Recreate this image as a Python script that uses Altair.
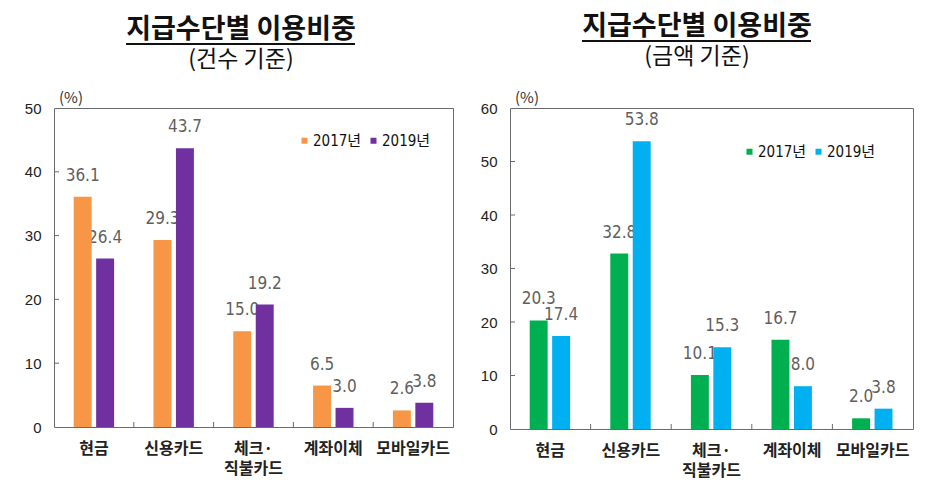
import altair as alt
import pandas as pd

# ---- data ----
categories = ["현금", "신용카드", "체크·\n직불카드", "계좌이체", "모바일카드"]
years = ["2017년", "2019년"]
count_2017 = [36.1, 29.3, 15.0, 6.5, 2.6]
count_2019 = [26.4, 43.7, 19.2, 3.0, 3.8]
amount_2017 = [20.3, 32.8, 10.1, 16.7, 2.0]
amount_2019 = [17.4, 53.8, 15.3, 8.0, 3.8]
count_ticks = [0, 10, 20, 30, 40, 50]
amount_ticks = [0, 10, 20, 30, 40, 50, 60]
main_title = "지급수단별 이용비중"
count_subtitle = "(건수 기준)"
amount_subtitle = "(금액 기준)"
unit_label = "(%)"

NUM_FONT = "Liberation Sans Narrow, Arial Narrow, DejaVu Sans Condensed, sans-serif"
KR_FONT = "Noto Sans CJK KR"
FRAME = "#6b6b6b"


def panel(v17, v19, colors, ticks, w, h, subtitle, legend_xy, shift):
    df = pd.DataFrame({
        "cat": categories * 2,
        "series": [years[0]] * len(categories) + [years[1]] * len(categories),
        "value": v17 + v19,
    })
    ymax = ticks[-1]
    xscale = alt.Scale(domain=categories, paddingInner=0, paddingOuter=0)
    yscale = alt.Scale(domain=[0, ymax], nice=False)
    offscale = alt.Scale(domain=years, paddingInner=0.2, paddingOuter=0.878)

    xaxis = alt.Axis(title=None, labelAngle=0, ticks=False, domain=False,
                     labelPadding=13, labelFont=KR_FONT, labelFontSize=16,
                     labelFontWeight="bold", labelColor="#222222",
                     labelLineHeight=20, labelBaseline="top",
                     labelExpr="split(datum.label, '\\n')")
    yaxis = alt.Axis(title=None, values=ticks, ticks=False, domain=False,
                     grid=False, labelPadding=13,
                     labelFont="Liberation Sans, Arial, sans-serif",
                     labelFontSize=15, labelColor="#222222")
    x = alt.X("cat:N", scale=xscale, sort=categories, axis=xaxis)
    y = alt.Y("value:Q", scale=yscale, axis=yaxis)
    xo = alt.XOffset("series:N", scale=offscale, sort=years)

    base = alt.Chart(df)
    labels = base.mark_text(baseline="middle", dy=-21, font=NUM_FONT, fontSize=17,
                            color="#5f5f5f").encode(
        x=x, xOffset=xo, y=y, text=alt.Text("value:Q", format=".1f"))
    bars = base.mark_bar().encode(
        x=x, xOffset=xo, y=y,
        color=alt.Color("series:N", sort=years,
                        scale=alt.Scale(domain=years, range=colors),
                        legend=alt.Legend(title=None, orient="none",
                                          legendX=legend_xy[0], legendY=legend_xy[1],
                                          direction="horizontal", symbolType="square",
                                          symbolSize=36, symbolStrokeWidth=0,
                                          labelFont=NUM_FONT + ", " + KR_FONT,
                                          labelFontSize=15, labelColor="#111111",
                                          labelOffset=1, columnPadding=4, padding=0)))

    yt = alt.Chart(pd.DataFrame({"value": ticks[1:-1]})).mark_rule(color=FRAME).encode(
        y=alt.Y("value:Q", scale=yscale, axis=yaxis), x=alt.value(0), x2=alt.value(5))
    xt = alt.Chart(pd.DataFrame({"cat": categories[1:]})).mark_rule(color=FRAME).encode(
        x=alt.X("cat:N", scale=xscale, sort=categories, bandPosition=0, axis=xaxis),
        y=alt.value(h), y2=alt.value(h - 5))

    t = alt.Chart(pd.DataFrame({"t": [main_title]})).mark_text(
        font=KR_FONT, fontSize=27, fontWeight="bold", color="#111111",
        align="center", baseline="alphabetic").encode(
        text="t:N", x=alt.value(187), y=alt.value(-70 - shift))
    ul = alt.Chart(pd.DataFrame({"t": [main_title]})).mark_rule(
        color="#111111", strokeWidth=2).encode(
        x=alt.value(72), x2=alt.value(301), y=alt.value(-64 - shift))
    st = alt.Chart(pd.DataFrame({"t": [subtitle]})).mark_text(
        font=KR_FONT, fontSize=23, color="#111111", align="center",
        baseline="middle").encode(text="t:N", x=alt.value(187), y=alt.value(-48 - shift))
    unit = alt.Chart(pd.DataFrame({"t": [unit_label]})).mark_text(
        font=KR_FONT, fontSize=15, color="#333333", align="center",
        baseline="middle").encode(text="t:N", x=alt.value(17), y=alt.value(-10))

    return alt.layer(labels, bars, yt, xt, t, ul, st, unit).properties(
        width=w, height=h).resolve_scale(color="independent")


left = panel(count_2017, count_2019, ["#F79646", "#7030A0"], count_ticks, 399, 319,
             count_subtitle, (243, 25), 0)
right = panel(amount_2017, amount_2019, ["#00B050", "#00B0F0"], amount_ticks, 403, 321,
              amount_subtitle, (232, 36), 3)

chart = alt.hconcat(left, right, spacing=25).resolve_scale(
    color="independent", x="independent", y="independent").configure_view(
    stroke=FRAME, strokeWidth=1).properties(
    padding={"top": 4, "left": 15, "right": 5, "bottom": 5}, background="white")

chart.save("out.html", embed_options={"renderer": "svg", "actions": False})
